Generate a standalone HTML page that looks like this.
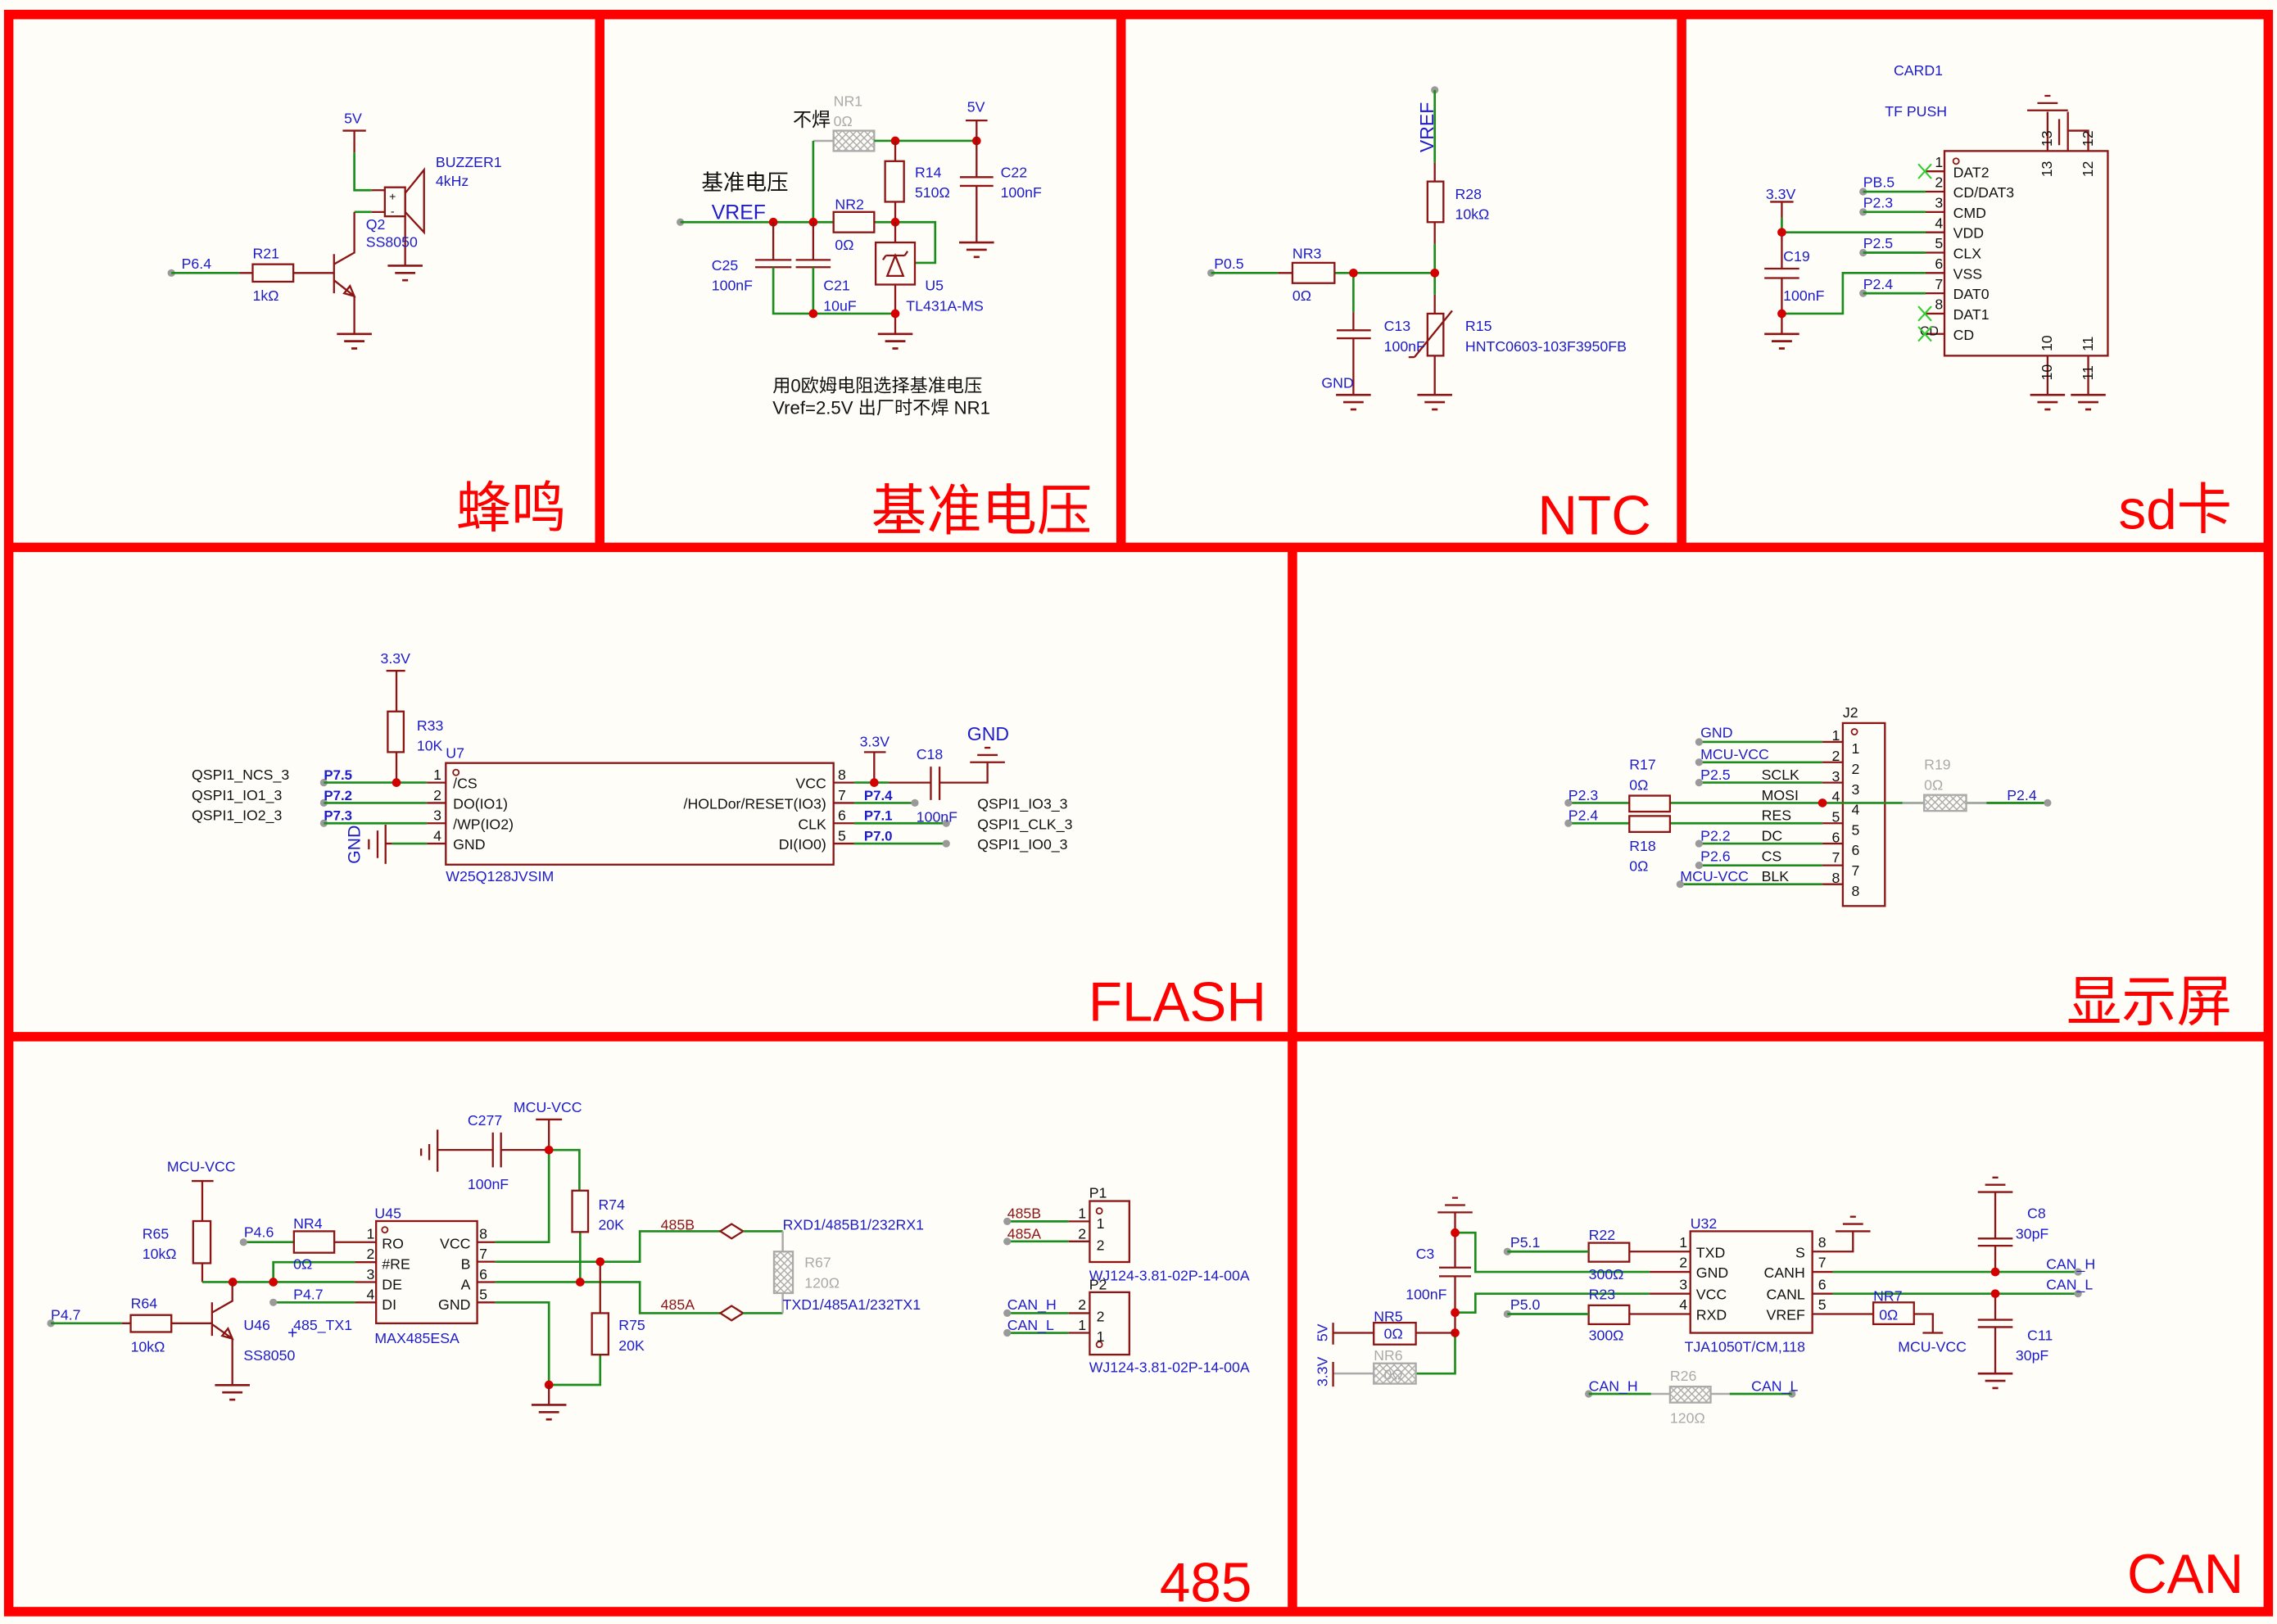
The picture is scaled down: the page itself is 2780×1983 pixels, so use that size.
<!DOCTYPE html>
<html><head><meta charset="utf-8"><style>
html,body{margin:0;padding:0;background:#fffdf7;}
svg{display:block}
.c{stroke:#8b1414;stroke-width:1.3;fill:none}
.w{stroke:#1c8c1c;stroke-width:1.5;fill:none}
.gl{stroke:#aaa;stroke-width:1.4;fill:none}
.fr{stroke:#f00;stroke-width:6.5;fill:none}
text{font-family:"Liberation Sans Narrow","Liberation Sans","Noto Sans CJK SC",sans-serif;font-size:10px}
.b{fill:#1c1cc8}.k{fill:#111}.r{fill:#8b1414}.g{fill:#aaa}
.bb{fill:#1c1cc8;font-weight:bold;font-family:"Liberation Sans",sans-serif;font-size:9.5px}
.t{fill:#f00;font-family:"Liberation Sans","Noto Sans CJK SC",sans-serif;font-size:38px}
.j{fill:#d40000}.p{fill:#9a9a9a}
.x{stroke:#3c3;stroke-width:1.2}
</style></head><body>
<svg width="2780" height="1983" viewBox="0 0 1568 1118.5" preserveAspectRatio="none" xmlns="http://www.w3.org/2000/svg">
<defs>
<g id="gnd"><path d="M-12 0H12M-7 5H7M-2 10H2" stroke="#8b1414" stroke-width="1.5" fill="none"/></g>
<pattern id="hx" width="5" height="5" patternUnits="userSpaceOnUse"><path d="M0 0L5 5M5 0L0 5" stroke="#aaa" stroke-width="0.8"/></pattern>
</defs>
<rect width="1568" height="1118.5" fill="#fffdf7"/>
<!-- frames -->
<rect class="fr" x="6" y="10" width="1556" height="1100"/>
<path class="fr" d="M6 377H1562M6 714H1562M413 10V377M772 10V377M1158 10V377M890 377V1110"/>
<text class="t" x="390" y="363" text-anchor="end">蜂鸣</text>
<text class="t" x="752" y="365" text-anchor="end">基准电压</text>
<text class="t" x="1137" y="368" text-anchor="end">NTC</text>
<text class="t" x="1537" y="364" text-anchor="end">sd卡</text>
<text class="t" x="872" y="703" text-anchor="end">FLASH</text>
<text class="t" x="1537" y="703" text-anchor="end">显示屏</text>
<text class="t" x="862" y="1103" text-anchor="end">485</text>
<text class="t" x="1545" y="1097" text-anchor="end">CAN</text>

<!-- ===== Buzzer ===== -->
<text class="b" x="237" y="85">5V</text>
<path class="c" d="M236 90H252M244 90V105"/>
<path class="w" d="M244 105V131H256M244 146H256"/>
<path class="c" d="M256 131H265M256 146H265"/>
<rect class="c" x="265" y="129" width="14" height="20"/>
<polygon class="c" points="279,133 292,117 292,160 279,146"/>
<text class="k" x="268" y="138" style="font-size:8px">+</text>
<text class="k" x="269" y="148" style="font-size:8px">-</text>
<path class="c" d="M279 149V183"/><use href="#gnd" x="279" y="183"/>
<text class="b" x="300" y="115">BUZZER1</text><text class="b" x="300" y="128">4kHz</text>
<text class="b" x="252" y="158">Q2</text><text class="b" x="252" y="170">SS8050</text>
<path class="c" d="M230 175V202M230 182L244 174V146M230 193L244 204V230M241 197L244 204L237 202Z"/>
<use href="#gnd" x="244" y="230"/>
<circle class="p" cx="118" cy="188" r="2.6"/>
<path class="w" d="M118 188H165"/><path class="c" d="M165 188H174M202 188H230"/>
<rect class="c" x="174" y="182" width="28" height="12"/>
<text class="b" x="125" y="185">P6.4</text><text class="b" x="174" y="178">R21</text><text class="b" x="174" y="207">1kΩ</text>

<!-- ===== VREF ===== -->
<text class="k" x="546" y="87" style="font-size:13px">不焊</text>
<text class="g" x="574" y="73">NR1</text><text class="g" x="574" y="87">0Ω</text>
<rect x="574" y="90" width="28" height="14" fill="url(#hx)" stroke="#aaa" stroke-width="1.3"/>
<path class="gl" d="M560 97H574"/>
<path class="w" d="M560 97V153M602 97H672"/>
<circle class="j" cx="616.5" cy="97" r="3"/><circle class="j" cx="672.5" cy="97" r="3"/>
<text class="b" x="666" y="77">5V</text>
<path class="c" d="M665 83H680M672.5 83V97"/>
<path class="c" d="M616.5 97V111M616.5 139V153"/><rect class="c" x="609.5" y="111" width="13" height="28"/>
<text class="b" x="630" y="122">R14</text><text class="b" x="630" y="136">510Ω</text>
<path class="c" d="M672.5 97V122M661 122H684M661 128H684M672.5 128V167"/><use href="#gnd" x="672.5" y="167"/>
<text class="b" x="689" y="122">C22</text><text class="b" x="689" y="136">100nF</text>
<text class="k" x="483" y="131" style="font-size:15px;font-family:'Liberation Sans','Noto Sans CJK SC',sans-serif">基准电压</text>
<text class="b" x="490" y="151" style="font-size:14px;font-family:'Liberation Sans',sans-serif">VREF</text>
<circle class="p" cx="468.5" cy="153" r="2.6"/>
<path class="w" d="M468.5 153H574M602 153H644V181H630"/>
<rect class="c" x="574" y="146" width="28" height="14"/>
<text class="b" x="575" y="144">NR2</text><text class="b" x="575" y="172">0Ω</text>
<circle class="j" cx="532.5" cy="153" r="3"/><circle class="j" cx="560" cy="153" r="3"/><circle class="j" cx="616.5" cy="153" r="3"/>
<path class="c" d="M532.5 153V179M520 179H545M520 184H545M560 153V179M548 179H572M548 184H572"/>
<path class="w" d="M532.5 184V216H616.5M560 184V216"/>
<rect class="c" x="603" y="167" width="27" height="29"/>
<path class="c" d="M616.5 153V167M616.5 196V230M611 190H622L616.5 176ZM610 176H623M610 176L608 179M623 176L625 173"/>
<circle class="j" cx="560" cy="216" r="3"/><circle class="j" cx="616.5" cy="216" r="3"/>
<use href="#gnd" x="616.5" y="230"/>
<text class="b" x="490" y="186">C25</text><text class="b" x="490" y="200">100nF</text>
<text class="b" x="567" y="200">C21</text><text class="b" x="567" y="214">10uF</text>
<text class="b" x="637" y="200">U5</text><text class="b" x="624" y="214">TL431A-MS</text>
<text class="k" x="532" y="270" style="font-size:12.5px;font-family:'Liberation Sans','Noto Sans CJK SC',sans-serif">用0欧姆电阻选择基准电压</text>
<text class="k" x="532" y="285" style="font-size:12.5px;font-family:'Liberation Sans','Noto Sans CJK SC',sans-serif">Vref=2.5V 出厂时不焊 NR1</text>

<!-- ===== NTC ===== -->
<text class="b" transform="translate(987 105) rotate(-90)" style="font-size:13px;font-family:'Liberation Sans',sans-serif">VREF</text>
<circle class="p" cx="988" cy="62" r="2.6"/>
<path class="w" d="M988 62V112M988 168V203"/>
<path class="c" d="M988 112V125M988 153V168M988 203V216M988 245V272"/>
<rect class="c" x="983" y="125" width="11" height="28"/>
<rect class="c" x="983" y="216" width="11" height="29"/>
<path class="c" d="M974 246L1000 214M974 246H970"/>
<text class="b" x="1002" y="137">R28</text><text class="b" x="1002" y="151">10kΩ</text>
<use href="#gnd" x="988" y="272"/>
<circle class="p" cx="834" cy="188" r="2.6"/>
<path class="w" d="M834 188H880M919 188H988M932 188V215"/>
<path class="c" d="M880 188H890"/>
<rect class="c" x="890" y="181" width="29" height="14"/>
<text class="b" x="836" y="185">P0.5</text><text class="b" x="890" y="178">NR3</text><text class="b" x="890" y="207">0Ω</text>
<circle class="j" cx="932" cy="188" r="3"/><circle class="j" cx="988" cy="188" r="3"/>
<path class="c" d="M932 215V227.5M920.5 227.5H944M920.5 233H944M932 233V272"/>
<use href="#gnd" x="932" y="272"/>
<text class="b" x="953" y="228">C13</text><text class="b" x="953" y="242">100nF</text>
<text class="b" x="1009" y="228">R15</text><text class="b" x="1009" y="242">HNTC0603-103F3950FB</text>
<text class="b" x="910" y="267">GND</text>

<!-- ===== SD ===== -->
<text class="b" x="1304" y="52">CARD1</text><text class="b" x="1298" y="80">TF PUSH</text>
<rect class="c" x="1339" y="104" width="112.5" height="141"/>
<circle cx="1347" cy="111" r="2" fill="none" stroke="#8b1414" stroke-width="1"/>
<path class="c" d="M1326 118H1339M1326 132H1339M1326 146H1339M1326 160H1339M1326 174H1339M1326 188H1339M1326 202H1339M1326 216H1339M1326 230H1339"/>
<g class="k" style="font-size:9px" text-anchor="end">
<text x="1338" y="115">1</text><text x="1338" y="129">2</text><text x="1338" y="143">3</text><text x="1338" y="157">4</text><text x="1338" y="171">5</text><text x="1338" y="185">6</text><text x="1338" y="199">7</text><text x="1338" y="213">8</text></g>
<g class="k"><text x="1345" y="122">DAT2</text><text x="1345" y="136">CD/DAT3</text><text x="1345" y="150">CMD</text><text x="1345" y="164">VDD</text><text x="1345" y="178">CLX</text><text x="1345" y="192">VSS</text><text x="1345" y="206">DAT0</text><text x="1345" y="220">DAT1</text><text x="1345" y="234">CD</text><text x="1322" y="231" style="font-size:9px">CD</text></g>
<path class="x" d="M1321 113L1330 123M1330 113L1321 123M1321 211L1330 221M1330 211L1321 221M1321 225L1330 235M1330 225L1321 235"/>
<circle class="p" cx="1283" cy="132" r="2.6"/><circle class="p" cx="1283" cy="146" r="2.6"/><circle class="p" cx="1283" cy="174" r="2.6"/><circle class="p" cx="1283" cy="202" r="2.6"/>
<path class="w" d="M1283 132H1326M1283 146H1326M1283 174H1326M1283 202H1326M1227 160H1326M1227 150V160M1227 216H1269V188H1326"/>
<text class="b" x="1283" y="129">PB.5</text><text class="b" x="1283" y="143">P2.3</text><text class="b" x="1283" y="171">P2.5</text><text class="b" x="1283" y="199">P2.4</text>
<text class="b" x="1216" y="137">3.3V</text>
<path class="c" d="M1219 139H1235M1227 139V150M1227 160V185M1215 185H1239M1215 191.5H1239M1227 191.5V230"/>
<circle class="j" cx="1227" cy="160" r="3"/><circle class="j" cx="1227" cy="216" r="3"/>
<use href="#gnd" x="1227" y="230"/>
<text class="b" x="1228" y="180">C19</text><text class="b" x="1228" y="207">100nF</text>
<path class="c" d="M1410 104V77M1424 104V77M1424 90H1438V104M1418 82V100M1396 76H1424M1403 71H1417M1408 66H1412"/>
<path class="c" d="M1410 245V272M1438 245V272"/>
<use href="#gnd" x="1410" y="272"/><use href="#gnd" x="1438" y="272"/>
<g class="k" style="font-size:9px">
<text transform="translate(1413 122) rotate(-90)">13</text><text transform="translate(1441 122) rotate(-90)">12</text>
<text transform="translate(1413 101) rotate(-90)">13</text><text transform="translate(1441 101) rotate(-90)">12</text>
<text transform="translate(1413 242) rotate(-90)">10</text><text transform="translate(1441 242) rotate(-90)">11</text>
<text transform="translate(1413 262) rotate(-90)">10</text><text transform="translate(1441 262) rotate(-90)">11</text></g>

<!-- ===== FLASH ===== -->
<text class="b" x="262" y="457">3.3V</text>
<path class="c" d="M266 462H279M273 462V490M273 518V539"/>
<rect class="c" x="267" y="490" width="11" height="28"/>
<text class="b" x="287" y="503">R33</text><text class="b" x="287" y="517">10K</text>
<rect class="c" x="307" y="525.5" width="267" height="70"/>
<circle cx="314" cy="532" r="2" fill="none" stroke="#8b1414" stroke-width="1"/>
<text class="b" x="307" y="522">U7</text><text class="b" x="307" y="607">W25Q128JVSIM</text>
<circle class="p" cx="223" cy="539" r="2.6"/><circle class="p" cx="223" cy="553" r="2.6"/><circle class="p" cx="223" cy="567" r="2.6"/>
<path class="w" d="M223 539H294M223 553H294M223 567H294M270 581H294"/>
<path class="c" d="M294 539H307M294 553H307M294 567H307M294 581H307M265.5 581H270"/>
<circle class="j" cx="273" cy="539" r="3"/>
<g class="k" style="font-size:12.5px;font-family:'Liberation Sans',sans-serif"><text x="132" y="537">QSPI1_NCS_3</text><text x="132" y="551">QSPI1_IO1_3</text><text x="132" y="565">QSPI1_IO2_3</text>
<text x="673" y="557">QSPI1_IO3_3</text><text x="673" y="571">QSPI1_CLK_3</text><text x="673" y="585">QSPI1_IO0_3</text></g>
<text class="bb" x="223" y="537">P7.5</text><text class="bb" x="223" y="551">P7.2</text><text class="bb" x="223" y="565">P7.3</text>
<path class="c" d="M265.5 568V595M260 572V591M254 578V585"/>
<text class="b" transform="translate(248 595) rotate(-90)" style="font-size:12px;font-family:'Liberation Sans',sans-serif">GND</text>
<g class="k" style="font-size:9.5px"><text x="304" y="537" text-anchor="end">1</text><text x="304" y="551" text-anchor="end">2</text><text x="304" y="565" text-anchor="end">3</text><text x="304" y="579" text-anchor="end">4</text>
<text x="577" y="537">8</text><text x="577" y="551">7</text><text x="577" y="565">6</text><text x="577" y="579">5</text>
<text x="312" y="543">/CS</text><text x="312" y="557">DO(IO1)</text><text x="312" y="571">/WP(IO2)</text><text x="312" y="585">GND</text>
<text x="569" y="543" text-anchor="end">VCC</text><text x="569" y="557" text-anchor="end">/HOLDor/RESET(IO3)</text><text x="569" y="571" text-anchor="end">CLK</text><text x="569" y="585" text-anchor="end">DI(IO0)</text></g>
<path class="c" d="M574 539H588M574 553H588M574 567H588M574 581H588"/>
<path class="w" d="M588 539H612M588 553H630M588 567H651.6M588 581H651.6"/>
<circle class="p" cx="630" cy="553" r="2.6"/><circle class="p" cx="651.6" cy="567" r="2.6"/><circle class="p" cx="651.6" cy="581" r="2.6"/>
<text class="b" x="592" y="514">3.3V</text>
<path class="c" d="M595 518H610M602 518V539M612 539H641M641 528V551M647 528V551M647 539H680V525M668 525H692M673 520H687M678 515H682"/>
<circle class="j" cx="602" cy="539" r="3"/>
<text class="b" x="666" y="510" style="font-size:13px;font-family:'Liberation Sans',sans-serif">GND</text>
<text class="b" x="631" y="523">C18</text><text class="b" x="631" y="566">100nF</text>
<text class="bb" x="595" y="551">P7.4</text><text class="bb" x="595" y="565">P7.1</text><text class="bb" x="595" y="579">P7.0</text>

<!-- ===== Display ===== -->
<rect class="c" x="1269" y="498" width="29" height="126"/>
<circle cx="1277" cy="504" r="2" fill="none" stroke="#8b1414" stroke-width="1"/>
<text class="k" x="1269" y="494">J2</text>
<path class="w" d="M1170 511H1255M1170 525H1255M1170 539H1255M1157 609H1255M1080 553H1122M1080 567H1122M1150 553H1410M1150 567H1255M1170 581H1255M1170 596H1255"/>
<path class="c" d="M1255 511H1269M1255 525H1269M1255 539H1269M1255 567H1269M1255 581H1269M1255 596H1269M1255 609H1269"/>
<rect x="1325" y="547.5" width="29" height="11" fill="#fffdf7" stroke="#aaa" stroke-width="1.3"/>
<rect x="1325" y="547.5" width="29" height="11" fill="url(#hx)"/>
<path class="gl" d="M1310 553H1325M1354 553H1368"/>
<path class="w" d="M1368 553H1410"/>
<rect class="c" x="1122" y="548" width="28" height="11" fill="#fffdf7"/>
<rect class="c" x="1122" y="562" width="28" height="11" fill="#fffdf7"/>
<circle class="j" cx="1255" cy="553" r="3"/>
<circle class="p" cx="1170" cy="511" r="2.6"/><circle class="p" cx="1170" cy="525" r="2.6"/><circle class="p" cx="1170" cy="539" r="2.6"/><circle class="p" cx="1170" cy="581" r="2.6"/><circle class="p" cx="1170" cy="596" r="2.6"/><circle class="p" cx="1157" cy="609" r="2.6"/><circle class="p" cx="1080" cy="553" r="2.6"/><circle class="p" cx="1080" cy="567" r="2.6"/><circle class="p" cx="1410" cy="553" r="2.6"/>
<g class="b" style="font-size:12.5px;font-family:'Liberation Sans',sans-serif"><text x="1171" y="508">GND</text><text x="1171" y="523">MCU-VCC</text><text x="1171" y="537">P2.5</text><text x="1171" y="579">P2.2</text><text x="1171" y="593">P2.6</text><text x="1080" y="551">P2.3</text><text x="1080" y="565">P2.4</text><text x="1382" y="551">P2.4</text></g>
<text class="b" x="1157" y="607" style="font-size:10px;font-family:'Liberation Sans',sans-serif">MCU-VCC</text>
<g class="k" style="font-size:12.5px;font-family:'Liberation Sans',sans-serif"><text x="1213" y="537">SCLK</text><text x="1213" y="551">MOSI</text><text x="1213" y="565">RES</text><text x="1213" y="579">DC</text><text x="1213" y="593">CS</text><text x="1213" y="607" style="font-size:10px">BLK</text></g>
<g class="k" style="font-size:9.5px;font-family:'Liberation Sans',sans-serif"><text x="1267" y="510" text-anchor="end">1</text><text x="1267" y="524" text-anchor="end">2</text><text x="1267" y="538" text-anchor="end">3</text><text x="1267" y="552" text-anchor="end">4</text><text x="1267" y="566" text-anchor="end">5</text><text x="1267" y="580" text-anchor="end">6</text><text x="1267" y="594" text-anchor="end">7</text><text x="1267" y="608" text-anchor="end">8</text>
<text x="1275" y="519">1</text><text x="1275" y="533">2</text><text x="1275" y="547">3</text><text x="1275" y="561">4</text><text x="1275" y="575">5</text><text x="1275" y="589">6</text><text x="1275" y="603">7</text><text x="1275" y="617">8</text></g>
<g class="b" style="font-family:'Liberation Sans',sans-serif"><text x="1122" y="530">R17</text><text x="1122" y="544">0Ω</text><text x="1122" y="586">R18</text><text x="1122" y="600">0Ω</text></g>
<text class="g" x="1325" y="530" style="font-family:'Liberation Sans',sans-serif">R19</text><text class="g" x="1325" y="544">0Ω</text>

<!-- ===== 485 ===== -->
<rect class="c" x="259" y="841" width="69.6" height="70.4"/>
<circle cx="265" cy="847" r="2" fill="none" stroke="#8b1414" stroke-width="1"/>
<text class="b" x="258" y="839">U45</text><text class="b" x="258" y="925">MAX485ESA</text>
<g class="k"><text x="263" y="860">RO</text><text x="263" y="874">#RE</text><text x="263" y="888">DE</text><text x="263" y="902">DI</text>
<text x="324" y="860" text-anchor="end">VCC</text><text x="324" y="874" text-anchor="end">B</text><text x="324" y="888" text-anchor="end">A</text><text x="324" y="902" text-anchor="end">GND</text>
<g style="font-size:9px"><text x="258" y="853" text-anchor="end">1</text><text x="258" y="867" text-anchor="end">2</text><text x="258" y="881" text-anchor="end">3</text><text x="258" y="895" text-anchor="end">4</text>
<text x="330" y="853">8</text><text x="330" y="867">7</text><text x="330" y="881">6</text><text x="330" y="895">5</text></g></g>
<path class="c" d="M244.5 855.5H259M244.5 869.3H259M244.5 883H259M244.5 897H259M328.6 855.5H341M328.6 869H341M328.6 883H341M328.6 897H341"/>
<text class="b" x="115" y="807">MCU-VCC</text>
<path class="c" d="M132 813.4H147M139.3 813.4V841M139.3 870V883"/>
<rect class="c" x="133" y="841" width="12" height="29"/>
<text class="b" x="98" y="853">R65</text><text class="b" x="98" y="867">10kΩ</text>
<path class="w" d="M139.3 883H244.5M188.2 883V869.3H244.5M188.2 897H244.5M167.7 855.5H202.4"/>
<path class="c" d="M230.2 855.5H244.5"/>
<rect class="c" x="202.4" y="848" width="27.8" height="14.8"/>
<circle class="j" cx="160.3" cy="883" r="3"/><circle class="j" cx="188.2" cy="883" r="3"/>
<path class="c" d="M146 897V920M146 904L160 896V883M146 912L160 922V954M157 915L160 922L153 920Z"/>
<use href="#gnd" x="160" y="954"/>
<circle class="p" cx="35" cy="911.4" r="2.6"/>
<path class="w" d="M35 911.4H84"/><path class="c" d="M84 911.4H90M118 911.4H146"/>
<rect class="c" x="90" y="905.7" width="28" height="11.7"/>
<text class="b" x="35" y="909">P4.7</text><text class="b" x="90" y="901">R64</text><text class="b" x="90" y="931">10kΩ</text>
<text class="b" x="167.7" y="916">U46</text><text class="b" x="167.7" y="937">SS8050</text>
<text class="b" x="202" y="916">485_TX1</text><text class="b" x="198" y="922" style="font-size:12px">+</text>
<circle class="p" cx="167.7" cy="855.5" r="2.6"/><circle class="p" cx="188.2" cy="897" r="2.6"/>
<text class="b" x="168" y="852">P4.6</text><text class="b" x="202" y="846">NR4</text><text class="b" x="202" y="874">0Ω</text><text class="b" x="202" y="895">P4.7</text>
<path class="w" d="M341 855.5H378V792H399V820M341 869H440.6V848H496M341 883H440.6V904.4H496M341 897H378V953.8H413.3V933M399.5 848.5V883"/>
<path class="c" d="M378 771V792M369 771H387M378 792H345M339.4 792H301.3M345 780V804M339.4 780V804M301.3 778V807M295.6 788V799M290 791V796"/>
<text class="b" x="353.6" y="766">MCU-VCC</text><text class="b" x="322" y="775">C277</text><text class="b" x="322" y="819">100nF</text>
<circle class="j" cx="378" cy="792" r="3"/>
<rect class="c" x="394" y="820" width="11" height="28.5"/>
<text class="b" x="412" y="833">R74</text><text class="b" x="412" y="847">20K</text>
<path class="c" d="M413.3 869V904.4"/><rect class="c" x="407.6" y="904.4" width="11.4" height="28.6"/>
<text class="b" x="426" y="916">R75</text><text class="b" x="426" y="930">20K</text>
<circle class="j" cx="413.3" cy="869" r="3"/><circle class="j" cx="399.5" cy="883" r="3"/><circle class="j" cx="378" cy="953.8" r="3"/>
<use href="#gnd" x="378" y="967.6"/><path class="c" d="M378 953.8V967.6"/>
<path class="c" d="M496 848L503.8 843L511.7 848L503.8 853ZM496 904.4L503.8 899.4L511.7 904.4L503.8 909.4Z"/>
<path class="w" d="M511.7 848H539M511.7 904.4H539"/>
<path class="gl" d="M539 848V862M539 890.6V904.4"/>
<rect x="533" y="862" width="13" height="28.6" fill="url(#hx)" stroke="#aaa" stroke-width="1.3"/>
<text class="r" x="455" y="847">485B</text><text class="r" x="455" y="902">485A</text>
<text class="b" x="539" y="847">RXD1/485B1/232RX1</text><text class="b" x="539" y="902">TXD1/485A1/232TX1</text>
<text class="g" x="554" y="873">R67</text><text class="g" x="554" y="887">120Ω</text>
<rect class="c" x="750.4" y="827.2" width="27.3" height="42"/>
<circle cx="757" cy="834" r="2" fill="none" stroke="#8b1414" stroke-width="1"/>
<rect class="c" x="750.4" y="890" width="27.3" height="43"/>
<circle cx="757" cy="926" r="2" fill="none" stroke="#8b1414" stroke-width="1"/>
<path class="w" d="M693.6 841.2H736M693.6 855H736M693.6 904.4H736M693.6 918H736"/>
<path class="c" d="M736 841.2H750.4M736 855H750.4M736 904.4H750.4M736 918H750.4"/>
<circle class="p" cx="693.6" cy="841.2" r="2.6"/><circle class="p" cx="693.6" cy="855" r="2.6"/><circle class="p" cx="693.6" cy="904.4" r="2.6"/><circle class="p" cx="693.6" cy="918" r="2.6"/>
<text class="r" x="693.6" y="839">485B</text><text class="r" x="693.6" y="853">485A</text>
<text class="b" x="693.6" y="902">CAN_H</text><text class="b" x="693.6" y="916">CAN_L</text>
<g class="k" style="font-size:9.5px"><text x="748" y="839" text-anchor="end">1</text><text x="748" y="853" text-anchor="end">2</text><text x="755" y="846">1</text><text x="755" y="861">2</text>
<text x="748" y="902" text-anchor="end">2</text><text x="748" y="916" text-anchor="end">1</text><text x="755" y="910">2</text><text x="755" y="924">1</text></g>
<text class="k" x="750" y="825">P1</text><text class="k" x="750" y="888">P2</text>
<text class="b" x="750" y="882">WJ124-3.81-02P-14-00A</text><text class="b" x="750" y="945">WJ124-3.81-02P-14-00A</text>

<!-- ===== CAN ===== -->
<rect class="c" x="1164" y="848" width="84" height="70"/>
<text class="b" x="1164" y="846">U32</text><text class="b" x="1160" y="931">TJA1050T/CM,118</text>
<g class="k"><text x="1168" y="866">TXD</text><text x="1168" y="880">GND</text><text x="1168" y="895">VCC</text><text x="1168" y="909">RXD</text>
<text x="1243" y="866" text-anchor="end">S</text><text x="1243" y="880" text-anchor="end">CANH</text><text x="1243" y="895" text-anchor="end">CANL</text><text x="1243" y="909" text-anchor="end">VREF</text>
<g style="font-size:9px"><text x="1162" y="859" text-anchor="end">1</text><text x="1162" y="873" text-anchor="end">2</text><text x="1162" y="888" text-anchor="end">3</text><text x="1162" y="902" text-anchor="end">4</text>
<text x="1252" y="859">8</text><text x="1252" y="873">7</text><text x="1252" y="888">6</text><text x="1252" y="902">5</text></g></g>
<path class="c" d="M1136 862H1164M1136 876H1164M1136 891H1164M1136 905H1164M1122 862H1136M1122 905H1136M1248 862H1276V848M1264 848H1288M1269 843H1283M1274 838H1278M1248 876H1262M1248 891H1262M1248 905H1290M1318 905H1331V918M1324 918H1338"/>
<rect class="c" x="1094" y="856" width="28" height="13"/><rect class="c" x="1094" y="899" width="28" height="13"/>
<rect class="c" x="1290" y="897" width="28" height="15"/>
<circle class="p" cx="1038" cy="862" r="2.6"/><circle class="p" cx="1038" cy="905" r="2.6"/>
<path class="w" d="M1038 862H1094M1038 905H1094M1002 849H1016V876H1136M1002 904H1016V891H1136M1262 876H1431M1262 891H1431"/>
<text class="b" x="1040" y="859">P5.1</text><text class="b" x="1040" y="902">P5.0</text>
<text class="b" x="1094" y="854">R22</text><text class="b" x="1094" y="881">300Ω</text><text class="b" x="1094" y="895">R23</text><text class="b" x="1094" y="923">300Ω</text>
<path class="c" d="M1002 835V873M991 873H1013M991 879H1013M1002 879V918"/>
<path class="c" d="M990 835H1014M995 830H1009M1000 825H1004"/>
<path class="w" d="M1002 918V946H975"/>
<circle class="j" cx="1002" cy="849" r="3"/><circle class="j" cx="1002" cy="904" r="3"/><circle class="j" cx="1002" cy="918" r="3"/>
<text class="b" x="975" y="867">C3</text><text class="b" x="968" y="895">100nF</text>
<rect class="c" x="946" y="911" width="29" height="15"/>
<path class="c" d="M918 911V926M918 918H946M975 918H1002"/>
<text class="b" x="946" y="910">NR5</text><text class="b" x="953" y="922">0Ω</text>
<rect x="946" y="939" width="29" height="14" fill="url(#hx)" stroke="#aaa" stroke-width="1.3"/>
<path class="gl" d="M918 946H946"/><path class="c" d="M918 938V955"/>
<text class="g" x="946" y="937">NR6</text><text class="g" x="953" y="950">0Ω</text>
<text class="b" transform="translate(914 924) rotate(-90)">5V</text>
<text class="b" transform="translate(914 955) rotate(-90)">3.3V</text>
<text class="b" x="1294" y="909">0Ω</text><text class="b" x="1290" y="896">NR7</text><text class="b" x="1307" y="931">MCU-VCC</text>
<path class="c" d="M1374 821V853M1362 853H1386M1362 858H1386M1374 858V876M1374 891V909M1362 909H1386M1362 914H1386M1374 914V946"/>
<path class="c" d="M1362 821H1386M1367 816H1381M1372 811H1376"/>
<use href="#gnd" x="1374" y="946"/>
<circle class="j" cx="1374" cy="876" r="3"/><circle class="j" cx="1374" cy="891" r="3"/>
<circle class="p" cx="1431" cy="876" r="2.6"/><circle class="p" cx="1431" cy="891" r="2.6"/>
<text class="b" x="1396" y="839">C8</text><text class="b" x="1388" y="853">30pF</text><text class="b" x="1396" y="923">C11</text><text class="b" x="1388" y="937">30pF</text>
<text class="b" x="1409" y="874">CAN_H</text><text class="b" x="1409" y="888">CAN_L</text>
<circle class="p" cx="1094" cy="960" r="2.6"/><circle class="p" cx="1234" cy="960" r="2.6"/>
<path class="w" d="M1094 960H1137M1191 960H1234"/><path class="gl" d="M1137 960H1150M1178 960H1191"/>
<rect x="1150" y="955" width="28" height="11" fill="url(#hx)" stroke="#aaa" stroke-width="1.3"/>
<text class="b" x="1094" y="958">CAN_H</text><text class="b" x="1206" y="958">CAN_L</text>
<text class="g" x="1150" y="951">R26</text><text class="g" x="1150" y="980">120Ω</text>
</svg>
</body></html>
